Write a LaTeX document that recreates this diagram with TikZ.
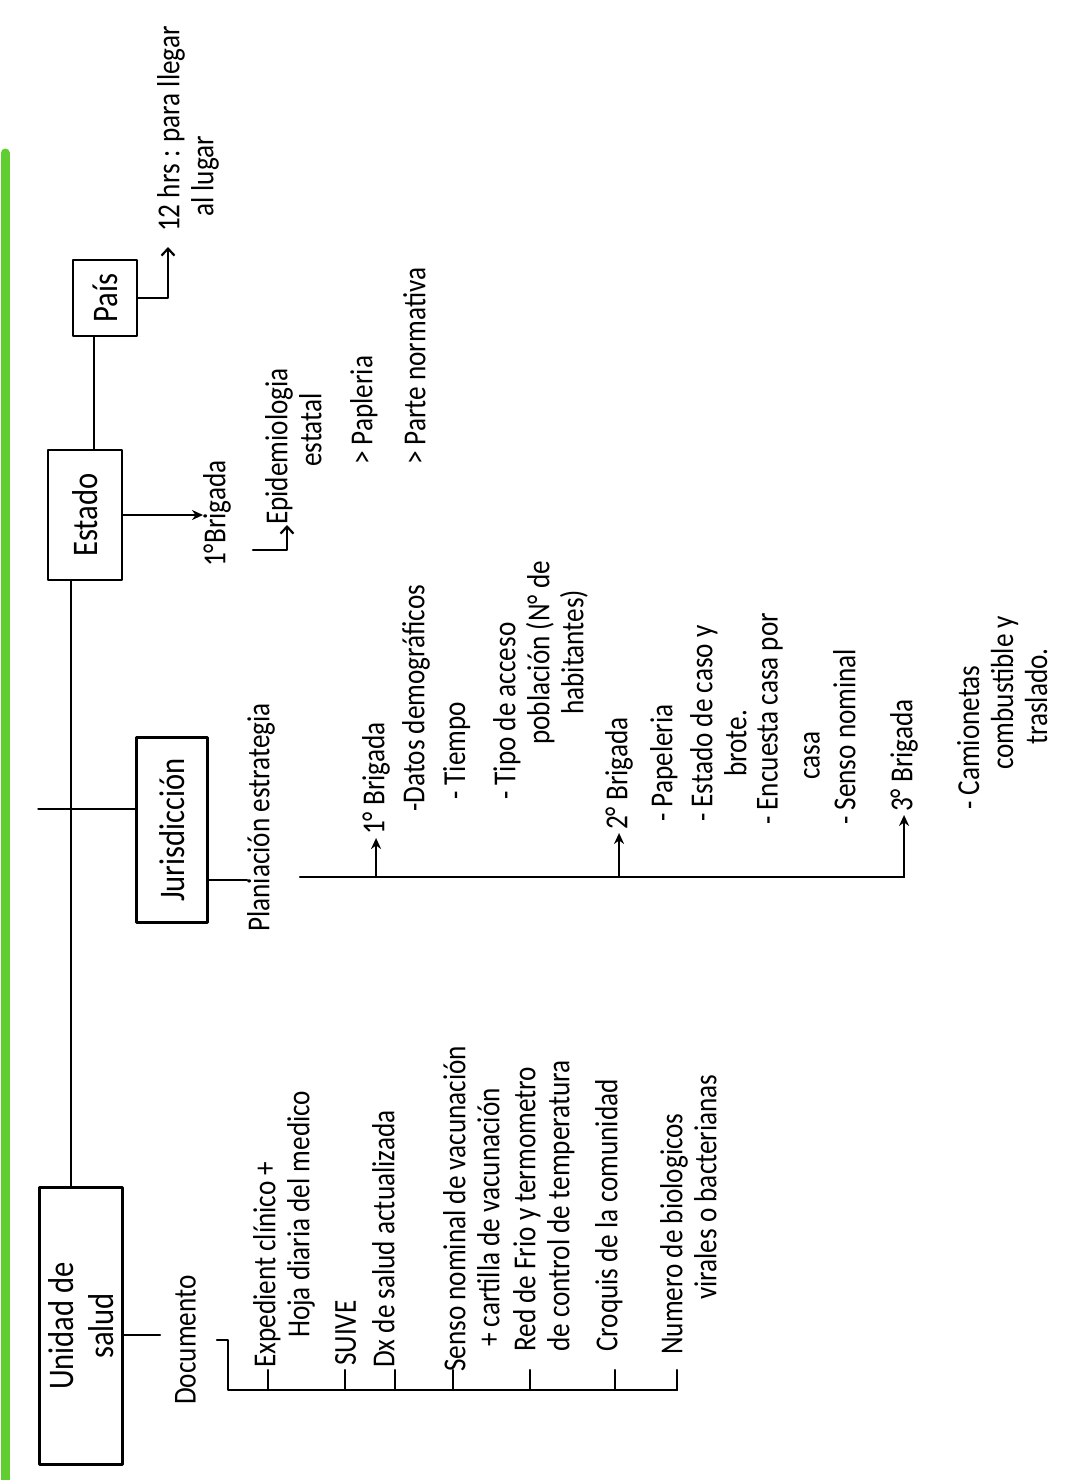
\documentclass[tikz,border=0pt]{standalone}
\usepackage{fontspec}
\setmainfont{Carlito}[FakeStretch=0.85]
\definecolor{MarginGreen}{RGB}{96,206,48}
\usetikzlibrary{arrows.meta,calc}
\newcommand{\hand}{\fontsize{32}{34}\selectfont}
\newcommand{\handbig}{\fontsize{36}{40}\selectfont}

\begin{document}
\begin{tikzpicture}[
    x=1pt, y=-1pt, line cap=round, line join=round,
    box/.style={draw, line width=2.4pt, rotate=90, align=center,
                inner sep=0pt, font=\handbig},
    txt/.style={rotate=90, anchor=north west, align=left,
                inner sep=0pt, font=\hand},
    lin/.style={line width=2.2pt},
    arr/.style={-{Stealth[length=11pt,width=10pt]}, line width=2.2pt},
    barb/.style={-{Straight Barb[length=7pt,width=13pt]}, line width=2.2pt}
  ]
    \useasboundingbox (0,0) rectangle (1066,1480);
    \draw[MarginGreen, line width=9pt] (5,153) -- (5,1480);

    % Levels
    \node[box, minimum width=277, minimum height=83] (unidad) at (81,1326) {Unidad de\\salud};
    \node[box, minimum width=185, minimum height=71] (jur) at (172,830) {Jurisdicción};
    \node[box, minimum width=130, minimum height=74] (estado) at (85,515) {Estado};
    \node[box, minimum width=76, minimum height=64] (pais) at (105,298) {País};

    \draw[lin] ($(unidad.east)+(-10,0)$) -- ($(unidad.east |- estado.west)+(-10,0)$);
    \draw[lin] ($(jur.north)+(0,-21)$) -- ($(jur.north -| unidad.north)+(0,-21)$);
    \draw[lin] ($(estado.east)+(9,0)$) -- ($(estado.east |- pais.west)+(9,0)$);

    % Pais
    \node[txt] (hrs) at (157,232) {12 hrs : para llegar\\\hspace*{15pt}al lugar};
    \draw[barb] (pais.south) -| ($(hrs.north west)+(11,15)$);

    % Estado
    \node[txt] (b0) at (203,567) {1°Brigada};
    \draw[arr] (estado.south) -- (estado.south -| b0.north);
    \node[txt] (epi) at (265,525) {Epidemiologia\\\hspace*{58pt}estatal};
    \coordinate (epiL) at (253,550);
    \draw[barb] (epiL) -| ($(epi.north west)+(22,0)$);
    \node[txt] (pap) at (350,465) {> Papleria};
    \node[txt] (norm) at (403,465) {> Parte normativa};

    % Unidad de salud
    \node[txt] (doc) at (175,1405) {Documento};
    \draw[lin] ($(unidad.south)+(0,9)$) -- ($(unidad.south -| doc.north)+(-15,9)$);

    \node[txt] (exp) at (253,1368) {Expedient clínico +\\\hspace*{30pt}Hoja diaria del medico};
    \node[txt] (suive) at (335,1366) {SUIVE};
    \node[txt] (dx) at (372,1368) {Dx de salud actualizada};
    \node[txt] (senso) at (443,1372) {Senso nominal de vacunación\\\hspace*{25pt}+ cartilla de vacunación};
    \node[txt] (red) at (513,1352) {Red de Frio y termometro\\de control de temperatura};
    \node[txt] (croq) at (595,1352) {Croquis de la comunidad};
    \node[txt] (num) at (660,1355) {Numero de biologicos\\\hspace*{55pt}virales o bacterianas};

    \coordinate (brkTop) at (217,1340);
    \coordinate (brk) at (228,1390);
    \draw[lin] (brkTop) -- (brkTop -| brk) -- (brk) -- ($(num.north west |- brk)+(17,0)$);
    \foreach \n/\dx in {exp/15, suive/10, dx/23, senso/10, red/17, croq/20, num/17}
      \draw[lin] ($(\n.north west |- brk)+(\dx,0)$) -- ++(0,-20);

    % Jurisdiccion
    \node[txt] (plan) at (247,932) {Planiación estrategia};
    \draw[lin] ($(jur.south)+(0,50)$) -- ($(jur.south -| plan.north)+(0,50)$);

    \node[txt] (b1) at (362,835) {1° Brigada};
    \node[txt] (b1a) at (402,812) {-Datos demográficos};
    \node[txt] (b1b) at (443,800) {- Tiempo};
    \node[txt] (b1c) at (493,800) {- Tipo de acceso\\\hspace*{55pt}población (N° de\\\hspace*{85pt}habitantes)};

    \node[txt] (b2) at (605,830) {2° Brigada};
    \node[txt] (b2a) at (650,822) {- Papeleria};
    \node[txt] (b2b) at (690,822) {- Estado de caso y\\\hspace*{45pt}brote.};
    \node[txt] (b2c) at (757,825) {- Encuesta casa por\\[8pt]\hspace*{45pt}casa};
    \node[txt] (b2d) at (833,825) {- Senso nominal};

    \node[txt] (b3) at (890,812) {3° Brigada};
    \node[txt] (b3a) at (957,810) {- Camionetas\\\hspace*{40pt}combustible y\\\hspace*{65pt}traslado.};

    \coordinate (axL) at (300,877);
    \draw[lin] (axL) -- (axL -| b3.west);
    \foreach \b in {b1,b2,b3}
      \draw[arr, shorten >=3pt] (axL -| \b.west) -- (\b.west);
\end{tikzpicture}
\end{document}
